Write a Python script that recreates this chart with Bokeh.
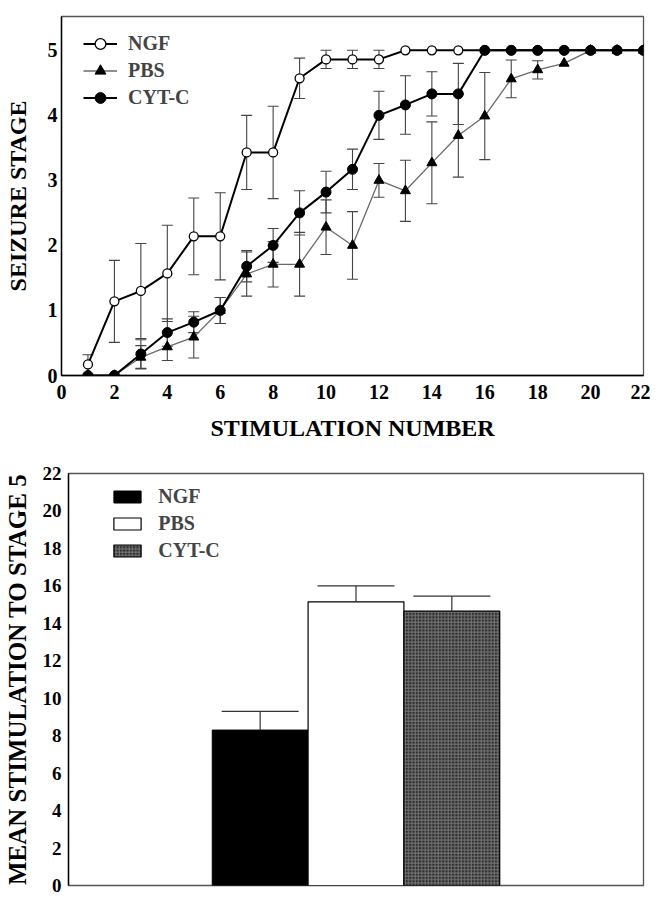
from bokeh.plotting import figure
from bokeh.models import (Whisker, TeeHead, ColumnDataSource, FixedTicker, FactorRange, Range1d)
from bokeh.layouts import column
from bokeh.embed import file_html
from bokeh.resources import INLINE

# ---------------- data ----------------
stim = list(range(1, 23))
ngf_mean = [0.17, 1.14, 1.30, 1.57, 2.14, 2.14, 3.43, 3.43, 4.57, 4.86, 4.86, 4.86,
            5, 5, 5, 5, 5, 5, 5, 5, 5, 5]
ngf_err = [0.15, 0.63, 0.73, 0.74, 0.59, 0.67, 0.57, 0.71, 0.31, 0.14, 0.14, 0.14,
           0, 0, 0, 0, 0, 0, 0, 0, 0, 0]
pbs_mean = [0, 0, 0.28, 0.44, 0.59, 1.0, 1.56, 1.71, 1.71, 2.28, 2.0, 3.0,
            2.84, 3.27, 3.69, 3.99, 4.56, 4.70, 4.80, 5, 5, 5]
pbs_err = [0, 0, 0.18, 0.21, 0.32, 0.2, 0.34, 0.35, 0.49, 0.42, 0.52, 0.26,
           0.47, 0.63, 0.64, 0.67, 0.29, 0.14, 0, 0, 0, 0]
cyt_mean = [0, 0, 0.33, 0.66, 0.82, 1.0, 1.68, 2.0, 2.5, 2.82, 3.17, 4.0,
            4.16, 4.33, 4.33, 5, 5, 5, 5, 5, 5, 5]
cyt_err = [0, 0, 0.22, 0.21, 0.16, 0.2, 0.24, 0.26, 0.34, 0.32, 0.31, 0.37,
           0.45, 0.34, 0.47, 0, 0, 0, 0, 0, 0, 0]
x_ticks = list(range(0, 23, 2))
y_ticks_top = [0, 1, 2, 3, 4, 5]

groups = ["NGF", "PBS", "CYT-C"]
bar_mean = [8.3, 15.15, 14.65]
bar_err = [1.0, 0.85, 0.8]
y_ticks_bottom = list(range(0, 23, 2))

FONT = "Liberation Serif"


def style_axes(p, tick_size, label_size):
    for ax in (p.xaxis + p.yaxis):
        ax.axis_label_text_font = FONT
        ax.axis_label_text_font_style = "bold"
        ax.axis_label_text_font_size = label_size
        ax.major_label_text_font = FONT
        ax.major_label_text_font_style = "bold"
        ax.major_label_text_font_size = tick_size
        ax.major_label_text_color = "black"
        ax.axis_label_text_color = "black"
        ax.major_tick_line_color = None
        ax.minor_tick_line_color = None
        ax.major_tick_out = 0
        ax.major_tick_in = 0
        ax.axis_line_color = "black"
        ax.axis_line_width = 1.4
    p.xgrid.grid_line_color = None
    p.ygrid.grid_line_color = None
    p.outline_line_color = "#555555"
    p.outline_line_width = 1.3


def add_err(p, xs, means, errs, color):
    keep = [i for i, e in enumerate(errs) if e > 0]
    src = ColumnDataSource(dict(
        x=[xs[i] for i in keep],
        lo=[means[i] - errs[i] for i in keep],
        hi=[means[i] + errs[i] for i in keep],
    ))
    w = Whisker(source=src, base="x", lower="lo", upper="hi", dimension="height",
                line_color=color, line_width=1.1,
                upper_head=TeeHead(size=11, line_color=color, line_width=1.1),
                lower_head=TeeHead(size=11, line_color=color, line_width=1.1))
    p.add_layout(w)


# ---------------- top chart ----------------
p1 = figure(width=650, height=448, x_range=Range1d(0, 22), y_range=Range1d(0, 5.52),
            output_backend="svg", toolbar_location=None, frame_align=False,
            min_border_left=61, min_border_right=7, min_border_top=16, min_border_bottom=73,
            x_axis_label="STIMULATION NUMBER", y_axis_label="SEIZURE STAGE")
p1.xaxis.ticker = FixedTicker(ticks=x_ticks)
p1.yaxis.ticker = FixedTicker(ticks=y_ticks_top)
style_axes(p1, "20px", "24px")
p1.xaxis.major_label_standoff = 9
p1.xaxis.axis_label_standoff = 13
p1.yaxis.major_label_standoff = 4
p1.yaxis.axis_label_standoff = 14

add_err(p1, stim, ngf_mean, ngf_err, "#444444")
add_err(p1, stim, pbs_mean, pbs_err, "#444444")
add_err(p1, stim, cyt_mean, cyt_err, "#444444")

p1.line(stim, ngf_mean, line_color="black", line_width=2, legend_label="NGF")
p1.scatter(stim, ngf_mean, marker="circle", size=9, fill_color="white",
           line_color="black", line_width=1.3, legend_label="NGF")
p1.line(stim, pbs_mean, line_color="#6a6a6a", line_width=1.3, legend_label="PBS")
p1.scatter(stim, pbs_mean, marker="triangle", size=10, fill_color="black",
           line_color="black", legend_label="PBS")
p1.line(stim, cyt_mean, line_color="black", line_width=2, legend_label="CYT-C")
p1.scatter(stim, cyt_mean, marker="circle", size=10, fill_color="black",
           line_color="black", legend_label="CYT-C")

lg = p1.legend[0]
lg.location = (22, 264.5)
lg.border_line_color = None
lg.background_fill_alpha = 0
lg.padding = 0
lg.margin = 0
lg.spacing = 0
lg.glyph_width = 34
lg.glyph_height = 27
lg.label_height = 27
lg.label_standoff = 11
lg.label_text_font = FONT
lg.label_text_font_style = "bold"
lg.label_text_font_size = "20px"

# ---------------- bottom chart ----------------
p2 = figure(width=650, height=449,
            x_range=FactorRange(factors=groups, range_padding=1.5, range_padding_units="absolute"),
            y_range=Range1d(0, 22),
            output_backend="svg", toolbar_location=None, frame_align=False,
            min_border_left=67, min_border_right=7, min_border_top=25, min_border_bottom=12,
            y_axis_label="MEAN STIMULATION TO STAGE 5")
p2.yaxis.ticker = FixedTicker(ticks=y_ticks_bottom)
style_axes(p2, "19px", "25px")
p2.xaxis.visible = False
p2.yaxis.major_label_standoff = 7
p2.yaxis.axis_label_standoff = 9

p2.vbar(x=[groups[0]], top=[bar_mean[0]], width=1.0, fill_color="black",
        line_color="black", legend_label=groups[0])
p2.vbar(x=[groups[1]], top=[bar_mean[1]], width=1.0, fill_color="white",
        line_color="black", line_width=1.2, legend_label=groups[1])
p2.vbar(x=[groups[2]], top=[bar_mean[2]], width=1.0, fill_color="#2e2e2e",
        hatch_pattern="cross", hatch_color="#787878", hatch_scale=3.3, hatch_weight=1,
        line_color="black", line_width=1.2, legend_label=groups[2])

bsrc = ColumnDataSource(dict(x=groups, lo=bar_mean,
                             hi=[m + e for m, e in zip(bar_mean, bar_err)]))
p2.add_layout(Whisker(source=bsrc, base="x", lower="lo", upper="hi", dimension="height",
                      line_color="#333333", line_width=1.2, level="overlay",
                      upper_head=TeeHead(size=77, line_color="#333333", line_width=1.2),
                      lower_head=None))

lg2 = p2.legend[0]
lg2.location = (42.3, 323)
lg2.border_line_color = None
lg2.background_fill_alpha = 0
lg2.padding = 0
lg2.margin = 0
lg2.spacing = 3
lg2.glyph_width = 34
lg2.glyph_height = 15
lg2.label_height = 24
lg2.label_standoff = 14
lg2.label_text_font = FONT
lg2.label_text_font_style = "bold"
lg2.label_text_font_size = "20px"

layout = column(p1, p2, spacing=0)
open("out.html", "w").write(file_html(layout, INLINE))
